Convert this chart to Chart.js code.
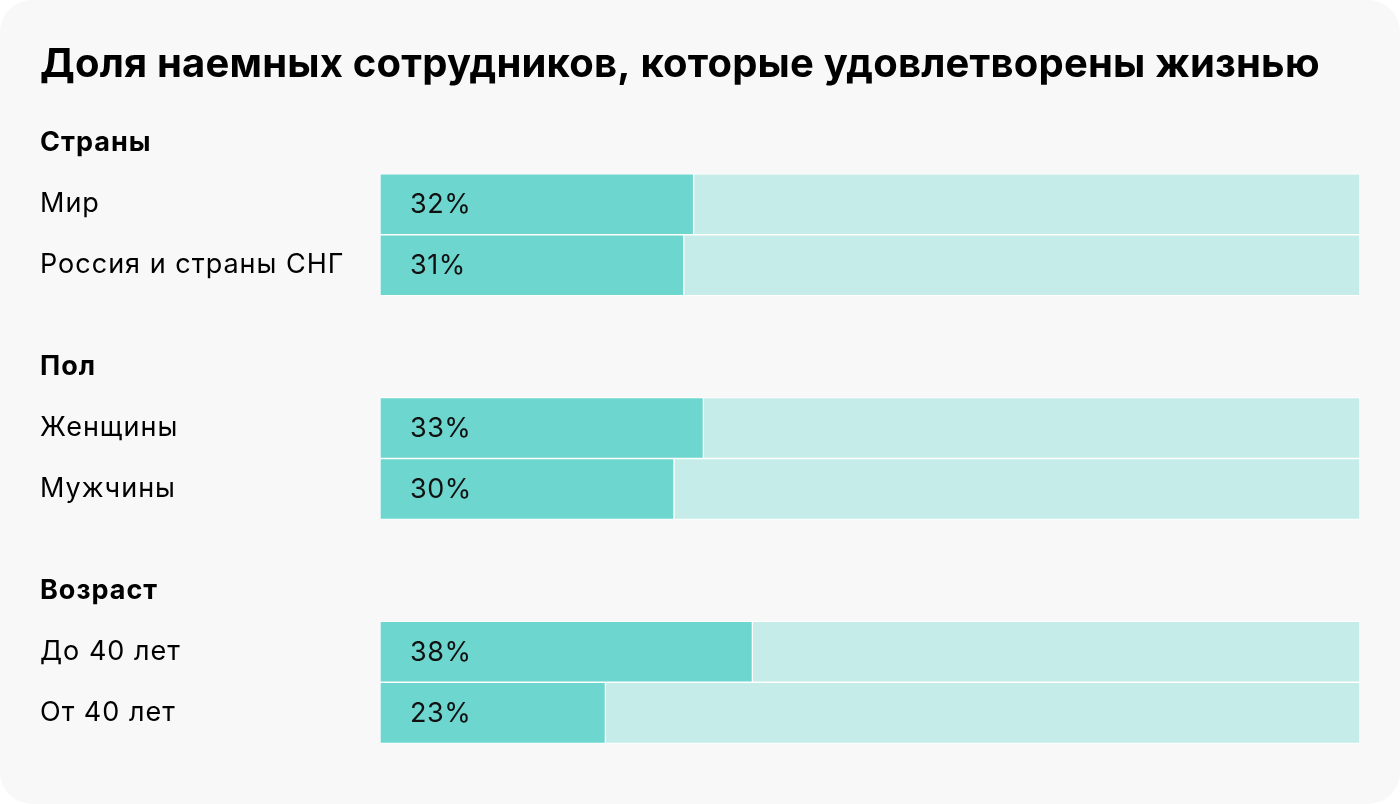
<!DOCTYPE html>
<html>
<head>
<meta charset="utf-8">
<script src="https://cdn.jsdelivr.net/npm/chart.js@4.4.0/dist/chart.umd.min.js"></script>
<style>
  html, body { margin: 0; padding: 0; background: #ffffff; }
  #card { position: relative; width: 1400px; height: 804px; background: #f8f8f8; border-radius: 32px; overflow: hidden; }
  #c { position: absolute; left: 0; top: 0; }
</style>
</head>
<body>
<div id="card"><canvas id="c" width="1400" height="804"></canvas></div>
<script>
// ---- data ----
const title = "Доля наемных сотрудников, которые удовлетворены жизнью";
const groups = ["Страны", "Пол", "Возраст"];
const categories = ["Мир", "Россия и страны СНГ", "Женщины", "Мужчины", "До 40 лет", "От 40 лет"];
const categoryGroup = [0, 0, 1, 1, 2, 2];
const values = [32, 31, 33, 30, 38, 23];
const valueLabels = ["32%", "31%", "33%", "30%", "38%", "23%"];

// ---- build rows (headings, items, spacer rows) ----
const rows = [];
groups.forEach((g, gi) => {
  if (gi > 0) { for (let k = 0; k < 4; k++) rows.push({ label: "", kind: "space" }); }
  rows.push({ label: g, kind: "head" });
  categories.forEach((c, ci) => {
    if (categoryGroup[ci] !== gi) return;
    for (let k = 0; k < 2; k++) rows.push({ label: "", kind: "space" });
    rows.push({ label: c, kind: "item", idx: ci });
  });
});
const rowLabels = rows.map(r => r.label);
const shownData = rows.map(r => r.kind === "item" ? values[r.idx] : null);
const restData = rows.map(r => r.kind === "item" ? 100 - values[r.idx] : null);

const FONT = "Inter, Roboto, sans-serif";

const titlePlugin = {
  id: "titlePlugin",
  beforeDraw(chart) {
    const ctx = chart.ctx;
    ctx.save();
    ctx.letterSpacing = "0.2px";
    ctx.font = "700 40px " + FONT;
    ctx.fillStyle = "#000000";
    ctx.textAlign = "left";
    ctx.textBaseline = "alphabetic";
    ctx.fillText(title, 40, 77);
    ctx.restore();
    // wider tracking for axis labels
    ctx.letterSpacing = "1px";
  }
};

const valuePlugin = {
  id: "valuePlugin",
  afterDatasetsDraw(chart) {
    const ctx = chart.ctx;
    const meta = chart.getDatasetMeta(0);
    ctx.save();
    ctx.letterSpacing = "0.5px";
    ctx.font = "400 27px " + FONT;
    ctx.fillStyle = "#111111";
    ctx.textAlign = "left";
    ctx.textBaseline = "middle";
    meta.data.forEach((el, i) => {
      const r = rows[i];
      if (r.kind !== "item") return;
      ctx.fillText(valueLabels[r.idx], chart.chartArea.left + 30, el.y + 1);
    });
    ctx.restore();
  }
};

new Chart(document.getElementById("c"), {
  type: "bar",
  data: {
    labels: rowLabels,
    datasets: [
      { data: shownData, backgroundColor: "#6dd6ce", borderColor: "#ffffff", borderWidth: 1, borderSkipped: false, barThickness: 61, stack: "s", clip: false },
      { data: restData, backgroundColor: "#c5ece8", borderColor: "#ffffff", borderWidth: 1, borderSkipped: false, barThickness: 61, stack: "s", clip: false }
    ]
  },
  options: {
    indexAxis: "y",
    responsive: false,
    animation: false,
    layout: { padding: { top: 133, bottom: 81, left: 40, right: 40 } },
    plugins: { legend: { display: false }, tooltip: { enabled: false }, title: { display: false } },
    scales: {
      x: { display: false, stacked: true, min: 0, max: 100 },
      y: {
        stacked: true,
        position: "left",
        grid: { display: false },
        border: { display: false },
        afterFit(scale) { scale.width = 340; },
        ticks: {
          autoSkip: false,
          crossAlign: "far",
          padding: 0,
          color: "#000000",
          font(ctx) {
            const r = rows[ctx.index];
            if (r && r.kind === "head") return { family: FONT, size: 27, weight: "700" };
            return { family: FONT, size: 27, weight: "400" };
          }
        }
      }
    }
  },
  plugins: [titlePlugin, valuePlugin]
});
</script>
</body>
</html>
